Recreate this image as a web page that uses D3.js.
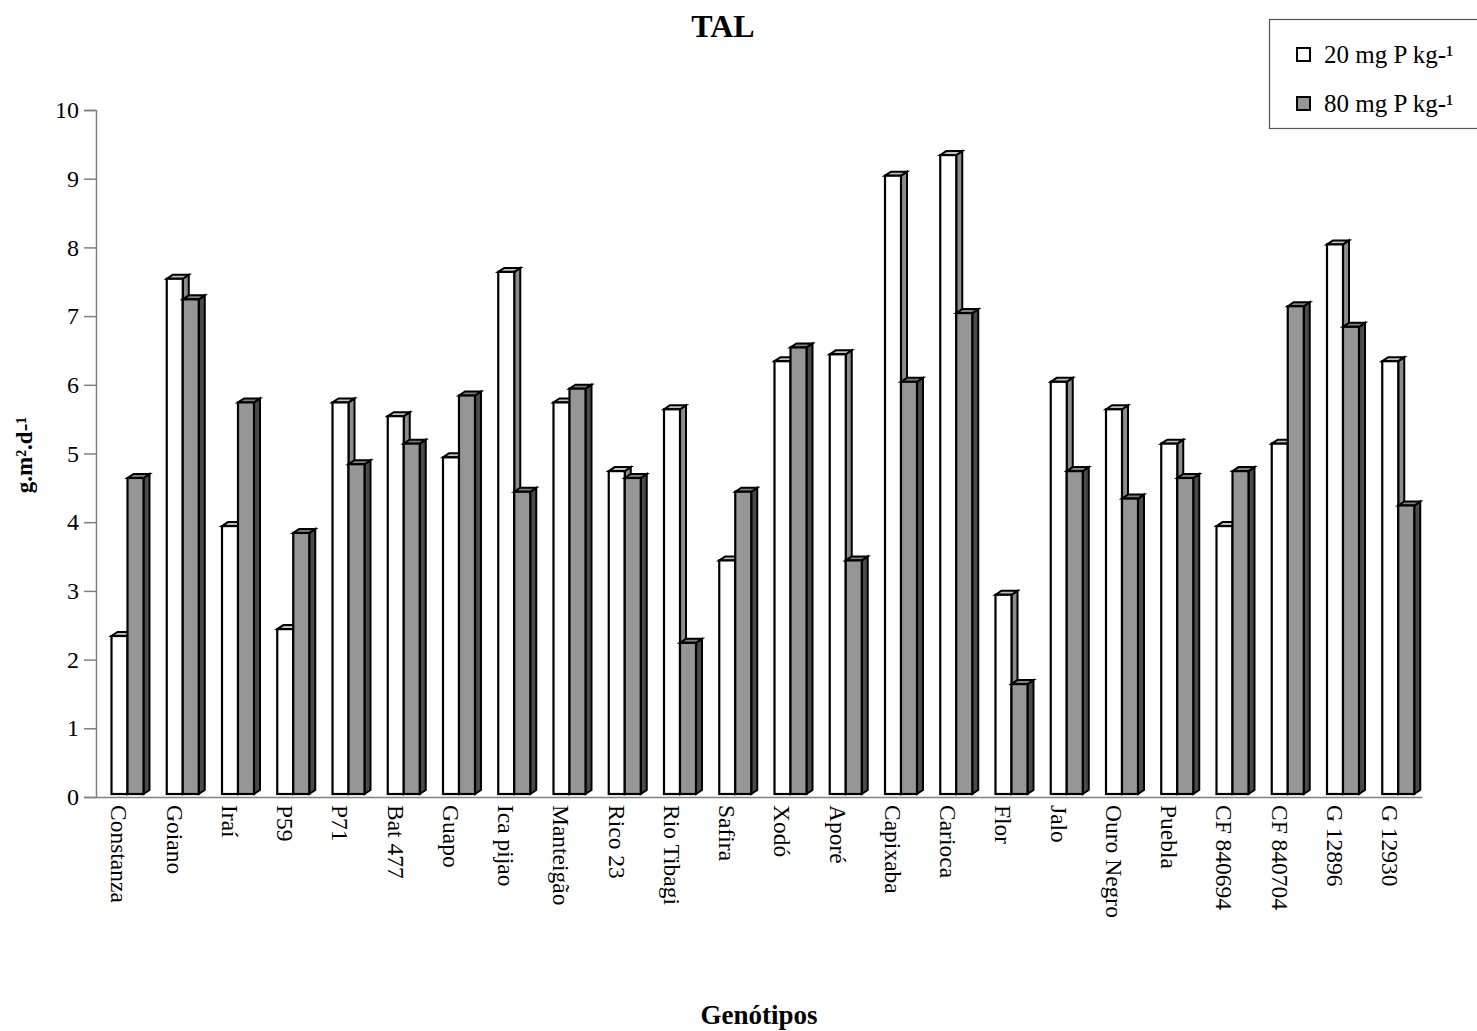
<!DOCTYPE html>
<html>
<head>
<meta charset="utf-8">
<script src="https://cdn.jsdelivr.net/npm/d3@7"></script>
<style>
html,body{margin:0;padding:0;background:#fff;}
svg{display:block;font-family:"Liberation Serif","Times New Roman",serif;}
</style>
</head>
<body>
<svg id="chart" width="1477" height="1031"></svg>
<script>
const categories = ["Constanza","Goiano","Iraí","P59","P71","Bat 477","Guapo","Ica pijao","Manteigão","Rico 23","Rio Tibagi","Safira","Xodó","Aporé","Capixaba","Carioca","Flor","Jalo","Ouro Negro","Puebla","CF 840694","CF 840704","G 12896","G 12930"];
const seriesNames = ["20 mg P kg-¹","80 mg P kg-¹"];
const values20 = [2.3,7.5,3.9,2.4,5.7,5.5,4.9,7.6,5.7,4.7,5.6,3.4,6.3,6.4,9.0,9.3,2.9,6.0,5.6,5.1,3.9,5.1,8.0,6.3];
const values80 = [4.6,7.2,5.7,3.8,4.8,5.1,5.8,4.4,5.9,4.6,2.2,4.4,6.5,3.4,6.0,7.0,1.6,4.7,4.3,4.6,4.7,7.1,6.8,4.2];
const yTicks = [0,1,2,3,4,5,6,7,8,9,10];

const fills = [
  {front:"#ffffff", top:"#c0c0c0", side:"#8c8c8c"},
  {front:"#969696", top:"#808080", side:"#4a4a4a"}
];

const svg = d3.select("#chart");
const x = d3.scaleBand().domain(categories).range([96, 1422]).paddingInner(0).paddingOuter(0);
const inner = d3.scaleBand().domain([0,1]).range([15.5, 47.5]).padding(0);
const y = d3.scaleLinear().domain([0,10]).range([797,110]);
const floorOff = 3, dx = 6, dy = 4;

// title
svg.append("text").attr("x",723).attr("y",37).attr("text-anchor","middle")
  .attr("font-weight","bold").attr("font-size",32).text("TAL");

// y axis
const yAxis = d3.axisLeft(y).tickValues(yTicks).tickSize(12).tickPadding(5).tickFormat(d3.format("d"));
const gy = svg.append("g").attr("transform","translate(96,0)").call(yAxis);
gy.attr("font-family",null);
gy.select(".domain").attr("stroke","#808080").attr("stroke-width",1.5);
gy.selectAll(".tick line").attr("stroke","#808080").attr("stroke-width",1.5);
gy.selectAll(".tick text").attr("font-size",24).attr("font-family","Liberation Serif").attr("fill","#000");

// x axis
const xAxis = d3.axisBottom(x).tickSize(0).tickPadding(0);
const gx = svg.append("g").attr("transform","translate(0,797)").call(xAxis);
gx.attr("font-family",null);
gx.select(".domain").attr("stroke","#808080").attr("stroke-width",1.5);
gx.selectAll(".tick text")
  .attr("font-size",23.5).attr("font-family","Liberation Serif").attr("fill","#000")
  .attr("text-anchor","start")
  .attr("transform","translate(-4,8) rotate(90)")
  .attr("x",0).attr("y",0).attr("dy","0.35em");

// bars
const data = [];
categories.forEach((c,i)=>{
  [values20[i], values80[i]].forEach((v,s)=>data.push({c, s, v}));
});
const bars = svg.append("g").selectAll("g").data(data).join("g");
bars.each(function(d){
  const g = d3.select(this);
  const x0 = x(d.c) + inner(d.s), w = inner.bandwidth();
  const yb = y(0) - floorOff, yt = y(d.v) - floorOff;
  const f = fills[d.s];
  g.append("path").attr("d",`M${x0+w},${yb} L${x0+w+dx},${yb-dy} L${x0+w+dx},${yt-dy} L${x0+w},${yt} Z`)
    .attr("fill",f.side).attr("stroke","#000").attr("stroke-width",2).attr("stroke-linejoin","miter");
  g.append("path").attr("d",`M${x0},${yt} L${x0+dx},${yt-dy} L${x0+w+dx},${yt-dy} L${x0+w},${yt} Z`)
    .attr("fill",f.top).attr("stroke","#000").attr("stroke-width",2).attr("stroke-linejoin","miter");
  g.append("rect").attr("x",x0).attr("y",yt).attr("width",w).attr("height",yb-yt)
    .attr("fill",f.front).attr("stroke","#000").attr("stroke-width",2.2);
});

// y label
svg.append("text").attr("transform","translate(32,455) rotate(-90)").attr("text-anchor","middle")
  .attr("font-weight","bold").attr("font-size",23).text("g.m².d-¹");

// x title
svg.append("text").attr("x",759).attr("y",1024).attr("text-anchor","middle")
  .attr("font-weight","bold").attr("font-size",27).text("Genótipos");

// legend
const lg = svg.append("g");
lg.append("rect").attr("x",1269.5).attr("y",19.5).attr("width",215).attr("height",109)
  .attr("fill","#fff").attr("stroke","#555").attr("stroke-width",1.2);
const ly = d3.scalePoint().domain(seriesNames).range([55,104]);
seriesNames.forEach((n,i)=>{
  lg.append("rect").attr("x",1297).attr("y",ly(n)-7).attr("width",13).attr("height",13)
    .attr("fill",fills[i].front).attr("stroke","#000").attr("stroke-width",2);
  lg.append("text").attr("x",1324).attr("y",ly(n)+8).attr("font-size",25).text(n);
});
</script>
</body>
</html>
